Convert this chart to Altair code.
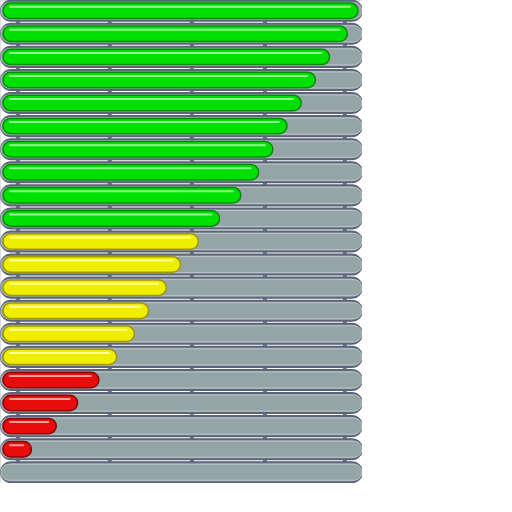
import altair as alt
import pandas as pd

values = [100, 97, 92, 88, 84, 80, 76, 72, 67, 61, 55, 50, 46, 41, 37, 32, 27, 21, 15, 8, 0]
levels = ["high"] * 10 + ["mid"] * 6 + ["low"] * 4 + ["none"]
grid_values = [4.2, 30.1, 53.2, 73.8, 96.3]

rows = [f"r{i:02d}" for i in range(len(values))]
df = pd.DataFrame({"row": rows, "value": values, "level": levels})
df["tmin"] = -0.56
df["tmax"] = 101.1
bars_df = df[df["value"] > 0].copy()
bars_df["zero"] = 0.0
bars_df["hs"] = 1.7
bars_df["he"] = bars_df["value"] - 2.0
bars_df["lvl2"] = bars_df["level"] + "_hi"

xs = alt.Scale(domain=[-0.845, 101.13], nice=False, zero=False)
ys = alt.Scale(paddingInner=0.13, paddingOuter=0.03)
Y = alt.Y("row:N", scale=ys, axis=None, sort=rows)

fill_scale = alt.Scale(
    domain=["high", "mid", "low", "high_hi", "mid_hi", "low_hi"],
    range=["#00e000", "#f0ee00", "#e80c0c", "#8cff8c", "#ffffa0", "#ff9c9c"],
)
edge_scale = alt.Scale(domain=["high", "mid", "low"], range=["#008c00", "#a09800", "#8c0000"])

grid = alt.Chart(pd.DataFrame({"g": grid_values})).mark_rule(color="#6a7492", strokeWidth=4).encode(
    x=alt.X("g:Q", scale=xs, axis=None)
)

track = alt.Chart(df).mark_bar(
    cornerRadius=10, fill="#95a5a6", stroke="#5c6478", strokeWidth=2
).encode(x=alt.X("tmin:Q", scale=xs, axis=None), x2="tmax:Q", y=Y)

track_hi = alt.Chart(df).mark_bar(
    cornerRadius=8, fill="#95a5a6", stroke="#b8c4cc", strokeWidth=1, height=alt.RelativeBandSize(0.8)
).encode(x=alt.X("tmin:Q", scale=xs, axis=None), x2="tmax:Q", y=Y)

bar = alt.Chart(bars_df).mark_bar(
    cornerRadius=8, strokeWidth=1.5, height=alt.RelativeBandSize(0.77)
).encode(
    x=alt.X("zero:Q", scale=xs, axis=None), x2="value:Q", y=Y,
    fill=alt.Fill("level:N", scale=fill_scale, legend=None),
    stroke=alt.Stroke("level:N", scale=edge_scale, legend=None),
)

hl = alt.Chart(bars_df).mark_bar(
    cornerRadius=1, height=2, yOffset=-4
).encode(
    x=alt.X("hs:Q", scale=xs, axis=None), x2="he:Q", y=Y,
    fill=alt.Fill("lvl2:N", scale=fill_scale, legend=None),
)

chart = alt.layer(grid, track, track_hi, bar, hl).properties(
    width=362, height=483, padding=0, autosize=alt.AutoSizeParams(type="none")
).configure_view(stroke=None).configure(background="white")

chart.save("out.html", embed_options={"renderer": "svg", "actions": False})
